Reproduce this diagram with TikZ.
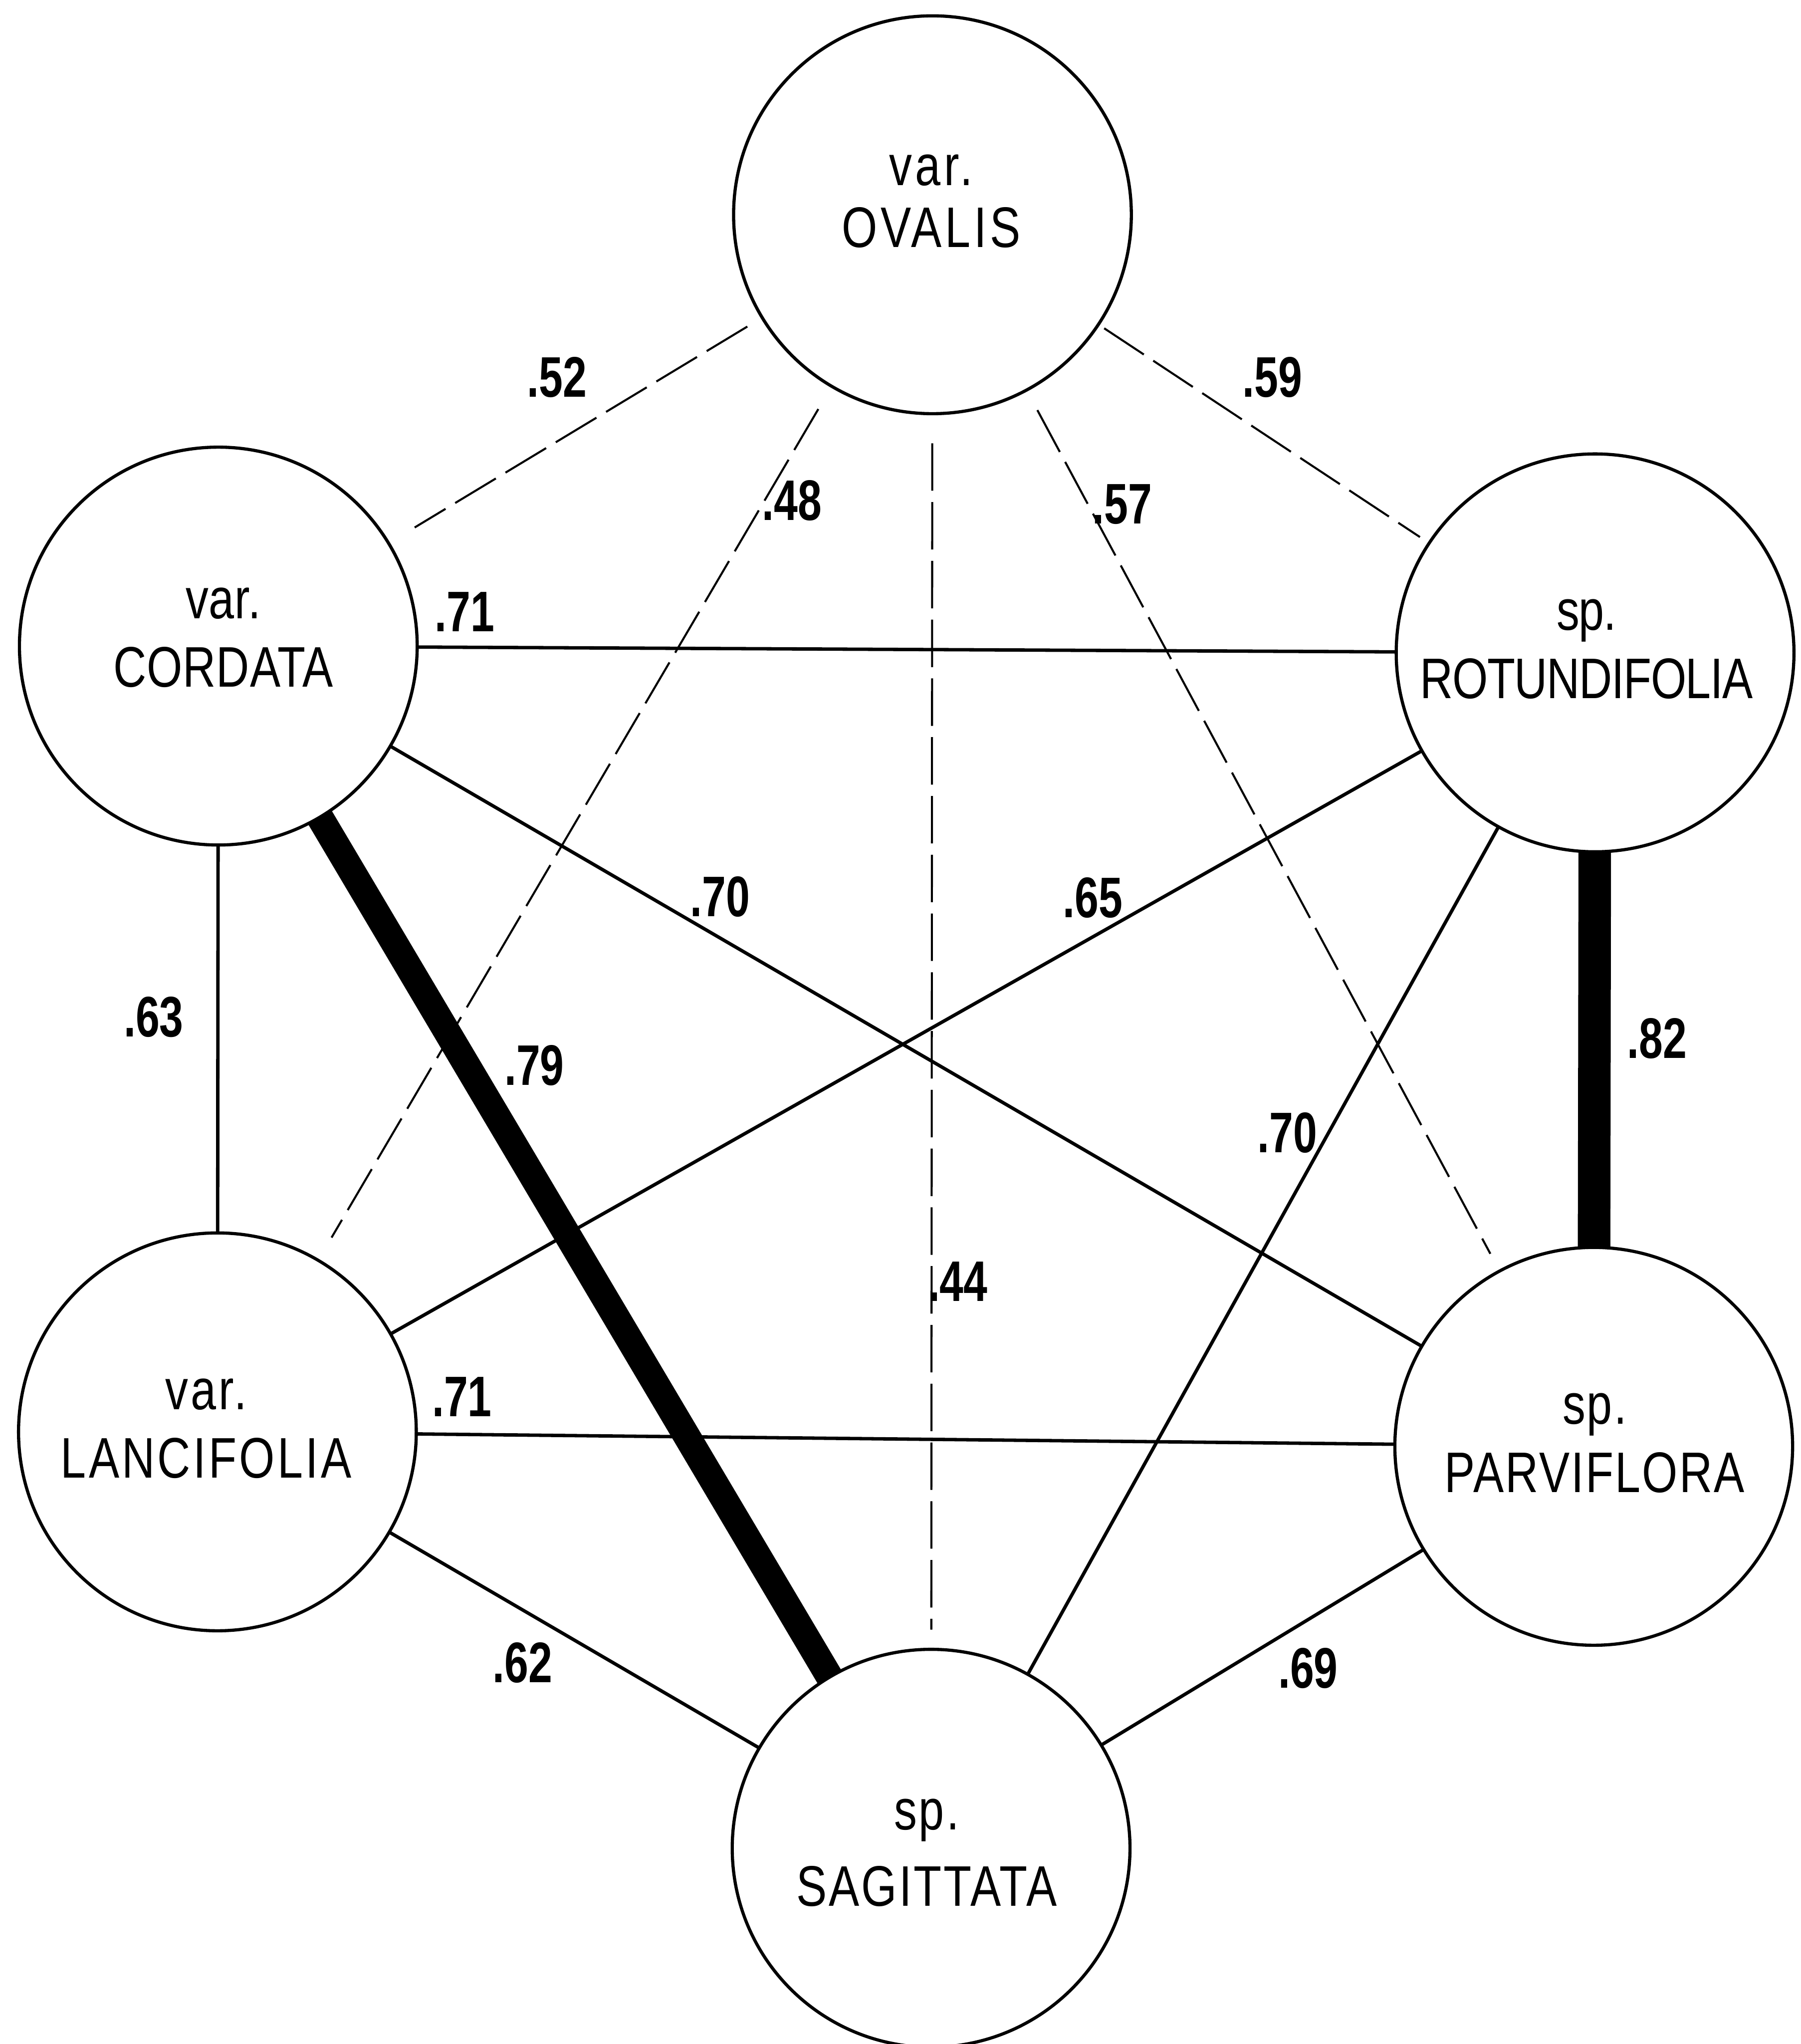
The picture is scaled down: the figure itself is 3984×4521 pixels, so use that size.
\documentclass[tikz,border=0pt]{standalone}
\usepackage{fontspec}
\setmainfont[FakeStretch=0.8]{Liberation Sans}
\newfontfamily\labfont[FakeStretch=0.75]{Liberation Sans Bold}
\usetikzlibrary{backgrounds}
\begin{document}
\begin{tikzpicture}[x=0.1mm,y=-0.1mm,
  taxon/.style={circle, draw, line width=0.7mm, fill=white, minimum size=88mm,
    inner sep=0pt},
  taxtext/.style={inner sep=0pt, align=center,
    font=\fontsize{36}{43}\selectfont\addfontfeature{LetterSpace=#1}},
  lab/.style={font=\labfont\fontsize{36}{43}\selectfont, inner sep=0pt},
  solidedge/.style={line width=0.75mm},
  dashededge/.style={line width=0.45mm, dash pattern=on 10.5mm off 2.5mm},
]
\useasboundingbox (0,0) rectangle (3984,4521);

% circles
\node[taxon] (O) at (2063,475)  {};
\node[taxon] (C) at (483,1429)  {};
\node[taxon] (R) at (3529,1444) {};
\node[taxon] (L) at (481,3167)  {};
\node[taxon] (P) at (3526,3199) {};
\node[taxon] (S) at (2060,4088) {};

% names inside the circles
\node[taxtext=5.9]  (Ot) at (2060,445)  {var.\\[-1.4mm]OVALIS};
\node[taxtext=0.9]  (Ct) at (494,1410)  {var.\\CORDATA};
\node[taxtext=-1.2] (Rt) at (3510,1436) {sp.\\ROTUNDIFOLIA};
\node[taxtext=4.6]  (Lt) at (456,3160)  {var.\\LANCIFOLIA};
\node[taxtext=2.8]  (Pt) at (3528,3192) {sp.\\PARVIFLORA};
\node[taxtext=3.6]  (St) at (2050,4098) {sp.\\[1.7mm]SAGITTATA};

\begin{pgfonlayer}{background}
\fill[white] (0,0) rectangle (3984,4521);
% dashed connectors from OVALIS
\draw[dashededge, shorten <=3.5mm, shorten >=6.4mm] (O) -- (C);
\draw[dashededge, shorten <=5.5mm, shorten >=5.5mm] (O) -- (L);
\draw[dashededge, shorten <=6.2mm, shorten >=4mm]   (O) -- (S);
\draw[dashededge, shorten <=4.7mm, shorten >=4mm]   (O) -- (P);
\draw[dashededge, shorten <=1.2mm, shorten >=2.1mm] (O) -- (R);
% solid connectors
\draw[solidedge] (C.center) -- (R.center);
\draw[solidedge] (C.center) -- (L.center);
\draw[solidedge] (C.center) -- (P.center);
\draw[solidedge] (L.center) -- (R.center);
\draw[solidedge] (L.center) -- (P.center);
\draw[solidedge] (L.center) -- (S.center);
\draw[solidedge] (R.center) -- (S.center);
\draw[solidedge] (P.center) -- (S.center);
% heavy connectors
\draw[line width=6mm] (C.center) -- (S.center);
\draw[line width=7.2mm] (R.center) -- (P.center);
\end{pgfonlayer}

% correlation labels
\node[lab] (vOC) at (1232,834)  {.52};
\node[lab] (vOR) at (2815,835)  {.59};
\node[lab] (vOL) at (1752,1107) {.48};
\node[lab] (vOP) at (2483,1116) {.57};
\node[lab] (vCR) at (1028,1353) {.71};
\node[lab] (vCP) at (1593,1984) {.70};
\node[lab] (vLR) at (2418,1986) {.65};
\node[lab] (vCL) at (340,2250)  {.63};
\node[lab] (vRP) at (3666,2297) {.82};
\node[lab] (vCS) at (1182,2357) {.79};
\node[lab] (vRS) at (2848,2506) {.70};
\node[lab] (vOS) at (2119,2834) {.44};
\node[lab] (vLP) at (1022,3089) {.71};
\node[lab] (vLS) at (1156,3678) {.62};
\node[lab] (vPS) at (2894,3690) {.69};
\end{tikzpicture}
\end{document}
